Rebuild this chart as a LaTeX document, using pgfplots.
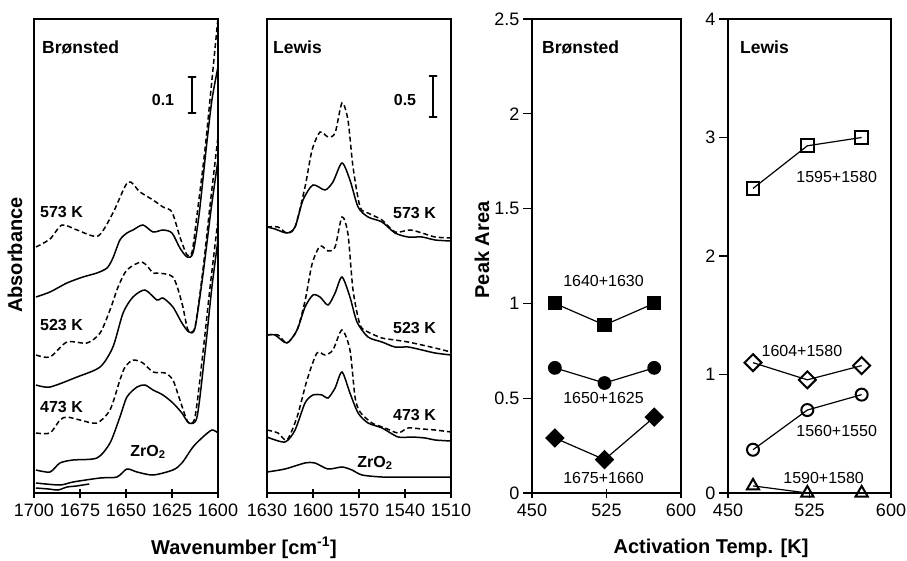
\documentclass[border=0pt]{standalone}
\usepackage{pgfplots}
\pgfplotsset{compat=1.18}
\usepackage{fontspec}
\setmainfont{Liberation Sans}
\begin{document}
\begin{tikzpicture}
\path[use as bounding box] (0pt,0pt) rectangle (907pt,560pt);
\pgfplotsset{
 base/.style={scale only axis, height=474pt, anchor=south west,
   axis line style={line width=1.6pt},
   every tick/.style={black,line width=1.4pt}, major tick length=9pt,
   tick label style={font=\fontsize{18}{18}\selectfont},
   xticklabel style={yshift=-3pt},
   /pgf/number format/assume math mode=true,
   /pgf/number format/set thousands separator={},
   xtick pos=bottom, ytick pos=left, clip=true},
 spec/.style={base, x dir=reverse, ymin=0, ymax=474, ytick=\empty, xtick align=center},
 sp/.style={black, line width=1.5pt, smooth, tension=0.45},
 dsh/.style={sp, dash pattern=on 5pt off 3pt},
 pa/.style={base, xmin=450, xmax=600, xtick={450,525,600}, ymin=0,
   xtick align=center, ytick align=outside},
 ln/.style={black, line width=1.2pt},
}
% ---------------- Panel 1 : Bronsted spectra
\begin{axis}[spec, at={(34pt,67pt)}, width=184pt, xmin=1600, xmax=1700, xtick={1600,1625,1650,1675,1700}]
% 573 K dashed
\addplot[dsh] coordinates {(1698.9,246)(1691.3,254)(1684.8,268)(1676.6,263)(1665.2,257)(1657.1,280)(1648.9,311)(1642.4,301)(1635.3,293)(1629.9,286)(1625.0,281)(1620.7,256)(1616.8,238)(1614.1,241)(1611.4,278)(1607.1,343)(1603.3,413)(1600,475)};
% 573 K solid
\addplot[sp] coordinates {(1698.9,196)(1691.3,201)(1682.1,210)(1673.4,216)(1665.8,220)(1660.3,225)(1657.1,235)(1653.3,253)(1649.5,260)(1646.2,263)(1640.8,268)(1635.3,261)(1629.9,263)(1625.0,260)(1620.7,245)(1616.8,236)(1613.6,240)(1610.3,278)(1606.5,343)(1603.3,393)(1600,426)};
% 523 K dashed
\addplot[dsh] coordinates {(1698.9,138)(1691.3,136)(1682.1,151)(1671.2,150)(1664.1,160)(1658.7,183)(1654.3,206)(1649.5,223)(1641.3,231)(1635.3,220)(1633.2,220)(1624.5,216)(1619.6,190)(1616.3,163)(1612.5,166)(1608.2,223)(1604.3,288)(1600,356)};
% 523 K solid
\addplot[sp] coordinates {(1698.9,108)(1691.3,106)(1676.6,116)(1664.1,126)(1657.1,146)(1651.6,180)(1646.2,196)(1639.7,203)(1633.2,193)(1629.9,195)(1624.5,186)(1619.6,170)(1615.8,161)(1612.5,165)(1608.2,218)(1603.8,283)(1600,333)};
% 473 K dashed
\addplot[dsh] coordinates {(1698.9,60)(1691.3,60)(1685.9,73)(1682.1,76)(1675,73)(1665.8,70)(1658.7,83)(1653.3,113)(1650.5,126)(1646.2,133)(1640.8,130)(1635.3,121)(1628.8,120)(1624.5,113)(1620.7,93)(1616.3,71)(1612.5,76)(1608.2,140)(1604.3,206)(1600,273)};
% 473 K solid
\addplot[sp] coordinates {(1698.9,23)(1691.3,21)(1685.9,30)(1678.8,33)(1665.8,35)(1658.7,50)(1653.3,76)(1649.5,96)(1644.0,106)(1639.7,108)(1635.3,103)(1629.9,98)(1624.5,90)(1619.6,80)(1615.8,70)(1611.4,76)(1607.1,140)(1603.3,206)(1600,253)};
% ZrO2
\addplot[sp] coordinates {(1698.9,10)(1685.9,8)(1678.8,11)(1664.1,15)(1654.9,16)(1649.5,24)(1644,21)(1635.3,18)(1624.5,23)(1619.6,30)(1613.6,46)(1608.2,56)(1603.3,63)(1600,60)};
\addplot[sp] coordinates {(1699,5)(1692,4)(1687,3)(1682,6)(1677,7)(1670,9)};
\end{axis}
% ---------------- Panel 2 : Lewis spectra
\begin{axis}[spec, at={(267pt,67pt)}, width=184pt, xmin=1510, xmax=1630, xtick={1510,1540,1570,1600,1630}]
\addplot[dsh] coordinates {(1630,266)(1622.8,266)(1617,260)(1611.7,266)(1605.2,306)(1600.6,343)(1595.4,361)(1590.2,356)(1585.6,360)(1581.1,390)(1577.2,373)(1573.9,326)(1569.3,286)(1564.1,280)(1555,273)(1546.5,261)(1536.7,263)(1528.9,260)(1520.4,256)(1510,255)};
\addplot[sp] coordinates {(1630,266)(1624.8,264)(1617.0,260)(1611.7,266)(1606.5,293)(1600.0,308)(1592.2,303)(1587.0,311)(1581.1,330)(1575.9,313)(1570.6,286)(1564.1,276)(1555.0,271)(1546.5,260)(1538.0,256)(1528.9,256)(1520.4,253)(1510,252)};
\addplot[dsh] coordinates {(1630,158)(1622.8,158)(1617,150)(1610.4,163)(1605.2,192)(1600.6,229)(1595.4,247)(1590.2,242)(1585.6,246)(1581.1,276)(1577.2,259)(1573.9,203)(1569.3,168)(1564.1,161)(1555,155)(1546.5,153)(1538,151)(1528.9,148)(1520.4,145)(1510,141)};
\addplot[sp] coordinates {(1630,158)(1624.8,158)(1617,150)(1610.4,163)(1605.2,186)(1600,198)(1595.4,196)(1590.2,188)(1585.6,200)(1581.1,216)(1575.9,196)(1571.3,171)(1564.1,156)(1555,151)(1546.5,146)(1538,146)(1528.9,143)(1520.4,140)(1510,138)};
\addplot[dsh] coordinates {(1630,63)(1622.8,60)(1617,53)(1610.4,76)(1603.9,113)(1597.4,140)(1592.2,138)(1587,143)(1581.1,163)(1575.9,143)(1572.6,96)(1569.3,81)(1561.5,70)(1553,65)(1544.5,60)(1538,65)(1528.9,64)(1520.4,63)(1510,61)};
\addplot[sp] coordinates {(1630,56)(1618.3,51)(1611.7,63)(1605.2,90)(1600,98)(1594.1,98)(1590.2,95)(1585.6,105)(1581.1,121)(1575.9,100)(1570.6,80)(1564.1,70)(1555,65)(1544.5,56)(1535.4,56)(1526.9,55)(1520.4,53)(1510,52)};
\addplot[sp] coordinates {(1630,21)(1618.3,24)(1605.2,30)(1598.7,30)(1590.2,24)(1581.1,26)(1574.6,23)(1568,18)(1555,16)(1541.9,16)(1520.4,16)(1510,16)};
\end{axis}
% ---------------- Panel 3 : Bronsted peak areas
\begin{axis}[pa, at={(532pt,67pt)}, width=149pt, ymax=2.5, ytick={0,0.5,1,1.5,2,2.5}]
\addplot[ln, mark=square*, mark size=6.5pt, mark options={solid,fill=black}] coordinates {(473,1.0)(523,0.886)(573,1.0)};
\addplot[ln, mark=*, mark size=6.3pt, mark options={solid,fill=black}] coordinates {(473,0.66)(523,0.58)(573,0.66)};
\addplot[ln, mark=square*, mark size=6.3pt, mark options={solid,fill=black,rotate=45}] coordinates {(473,0.29)(523,0.176)(573,0.40)};
\node[font=\fontsize{16}{16}\selectfont] at (axis cs:522,1.12) {1640+1630};
\node[font=\fontsize{16}{16}\selectfont] at (axis cs:522,0.50) {1650+1625};
\node[font=\fontsize{16}{16}\selectfont] at (axis cs:522,0.08) {1675+1660};
\end{axis}
% ---------------- Panel 4 : Lewis peak areas
\begin{axis}[pa, at={(728pt,67pt)}, width=163pt, ymax=4, ytick={0,1,2,3,4}, clip=false]
\addplot[ln, mark=square, mark size=6.3pt, mark options={solid,fill=white,line width=2pt}] coordinates {(473,2.57)(523,2.93)(573,3.0)};
\addplot[ln, mark=square, mark size=6pt, mark options={solid,fill=white,line width=2pt,rotate=45}] coordinates {(473,1.10)(523,0.955)(573,1.075)};
\addplot[ln, mark=o, mark size=6pt, mark options={solid,fill=white,line width=2pt}] coordinates {(473,0.365)(523,0.70)(573,0.83)};
\addplot[ln, mark=triangle, mark size=7pt, mark options={solid,fill=white,line width=2pt}] coordinates {(473,0.06)(523,0)(573,0)};
\node[font=\fontsize{16}{16}\selectfont] at (axis cs:550,2.67) {1595+1580};
\node[font=\fontsize{16}{16}\selectfont] at (axis cs:518,1.20) {1604+1580};
\node[font=\fontsize{16}{16}\selectfont] at (axis cs:550,0.52) {1560+1550};
\node[font=\fontsize{16}{16}\selectfont] at (axis cs:538,0.13) {1590+1580};
\end{axis}
% ---------------- texts
\begin{scope}[every node/.style={font=\bfseries\fontsize{17.5}{17.5}\selectfont, inner sep=0pt}]
\node[anchor=west] at (42pt,513pt) {Brønsted};
\node[anchor=west] at (273pt,513pt) {Lewis};
\node[anchor=west] at (542pt,513pt) {Brønsted};
\node[anchor=west] at (740pt,513pt) {Lewis};
\end{scope}
\begin{scope}[every node/.style={font=\bfseries\fontsize{16}{16}\selectfont, inner sep=0pt}]
\node at (163pt,460pt) {0.1};
\node at (405pt,460pt) {0.5};
\node[anchor=west] at (40pt,348pt) {573 K};
\node[anchor=west] at (40pt,235pt) {523 K};
\node[anchor=west] at (40pt,153pt) {473 K};
\node at (148pt,108pt) {ZrO\textsubscript{2}};
\node[anchor=west] at (393pt,347pt) {573 K};
\node[anchor=west] at (393pt,232pt) {523 K};
\node[anchor=west] at (393pt,145pt) {473 K};
\node at (375pt,97pt) {ZrO\textsubscript{2}};
\end{scope}
\draw[line width=1.6pt] (192pt,447pt)--(192pt,483pt);
\draw[line width=2pt, line cap=round] (188.5pt,447pt)--(195.5pt,447pt) (188.5pt,483pt)--(195.5pt,483pt);
\draw[line width=1.6pt] (433pt,443pt)--(433pt,484pt);
\draw[line width=2pt, line cap=round] (429.5pt,443pt)--(436.5pt,443pt) (429.5pt,484pt)--(436.5pt,484pt);
\begin{scope}[every node/.style={font=\bfseries\fontsize{20}{20}\selectfont, inner sep=0pt}]
\node[rotate=90] at (15pt,305pt) {Absorbance};
\node[rotate=90] at (482pt,310pt) {Peak Area};
\node at (244pt,12pt) {Wavenumber [cm\textsuperscript{-1}]};
\node at (711pt,12pt) {Activation Temp. [K]};
\end{scope}
\end{tikzpicture}
\end{document}
